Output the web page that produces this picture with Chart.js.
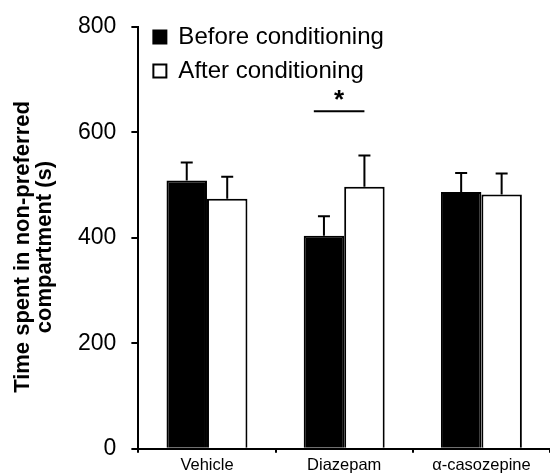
<!DOCTYPE html>
<html>
<head>
<meta charset="utf-8">
<script src="https://cdn.jsdelivr.net/npm/chart.js@4.4.0/dist/chart.umd.min.js"></script>
<style>
  html, body { margin: 0; padding: 0; background: #fff; }
  #wrap { width: 550px; height: 474px; }
</style>
</head>
<body>
<div id="wrap"><canvas id="graph"></canvas></div>
<script>
const groups = ['Vehicle', 'Diazepam', 'α-casozepine'];
const before = [509, 404, 487];
const beforeErr = [34, 37, 36];
const after = [474, 497, 482];
const afterErr = [42, 59, 40];

// significance mark over Diazepam
const sigGroup = 1;
const sigLevel = 640;
const sigStarLevel = 668;

Chart.defaults.font.family = '"Liberation Sans", Arial, sans-serif';
Chart.defaults.color = '#000';

// error bars (upper half only) + significance line, drawn on top of the bars
const errorBars = {
  id: 'errorBars',
  afterDatasetsDraw(chart) {
    const ctx = chart.ctx;
    const yScale = chart.scales.y;
    const errs = [beforeErr, afterErr];
    ctx.save();
    ctx.strokeStyle = '#000';
    ctx.lineWidth = 2;
    chart.data.datasets.forEach((ds, i) => {
      chart.getDatasetMeta(i).data.forEach((bar, j) => {
        const top = yScale.getPixelForValue(ds.data[j] + errs[i][j]);
        ctx.beginPath();
        ctx.moveTo(bar.x, bar.y);
        ctx.lineTo(bar.x, top);
        ctx.moveTo(bar.x - 6, top);
        ctx.lineTo(bar.x + 6, top);
        ctx.stroke();
      });
    });

    const b = chart.getDatasetMeta(0).data[sigGroup];
    const a = chart.getDatasetMeta(1).data[sigGroup];
    const x1 = b.x - b.width / 4;
    const x2 = a.x;
    const ly = yScale.getPixelForValue(sigLevel);
    ctx.beginPath();
    ctx.moveTo(x1, ly);
    ctx.lineTo(x2, ly);
    ctx.stroke();

    ctx.fillStyle = '#000';
    ctx.font = 'bold 26px "Liberation Sans", Arial, sans-serif';
    ctx.textAlign = 'center';
    ctx.textBaseline = 'middle';
    ctx.fillText('*', (x1 + x2) / 2, yScale.getPixelForValue(sigStarLevel) + 4);
    ctx.restore();
  }
};

// nudge the legend inside the plot to the top-left corner
const legendNudge = {
  id: 'legendNudge',
  afterLayout(chart) {
    chart.legend.left += 5;
    chart.legend.top += 15;
  }
};

const chart = new Chart(document.getElementById('graph'), {
  type: 'bar',
  data: {
    labels: groups,
    datasets: [
      {
        label: 'Before conditioning',
        data: before,
        backgroundColor: '#000',
        borderColor: '#000',
        borderWidth: 2
      },
      {
        label: 'After conditioning',
        data: after,
        backgroundColor: '#fff',
        borderColor: '#000',
        borderWidth: 2
      }
    ]
  },
  options: {
    responsive: true,
    maintainAspectRatio: false,
    animation: false,
    categoryPercentage: 0.59,
    barPercentage: 1,
    layout: { padding: { top: 27, left: 12, right: 0, bottom: 0 } },
    plugins: {
      tooltip: { enabled: false },
      legend: {
        position: 'chartArea',
        align: 'start',
        labels: {
          boxWidth: 13,
          boxHeight: 13,
          padding: 10,
          color: '#000',
          font: { size: 24 }
        }
      }
    },
    scales: {
      x: {
        ticks: { color: '#000', font: { size: 16.5, lineHeight: 1 }, padding: 5 },
        grid: { drawOnChartArea: false, offset: true, tickLength: 4, color: '#000', lineWidth: 2 },
        border: { color: '#000', width: 2 },
        afterFit(scale) { scale.height = 25; }
      },
      y: {
        min: 0,
        max: 800,
        ticks: { stepSize: 200, color: '#000', font: { size: 23, lineHeight: 0.9 }, padding: 15 },
        grid: { drawOnChartArea: false, tickLength: 7, color: '#000', lineWidth: 2 },
        border: { color: '#000', width: 2 },
        title: {
          display: true,
          text: ['Time spent in non-preferred   ', 'compartment (s)   '],
          color: '#000',
          font: { size: 22, weight: 'bold', lineHeight: 1 },
          padding: { top: 0, bottom: 7 }
        }
      }
    }
  },
  plugins: [errorBars, legendNudge]
});
</script>
</body>
</html>
